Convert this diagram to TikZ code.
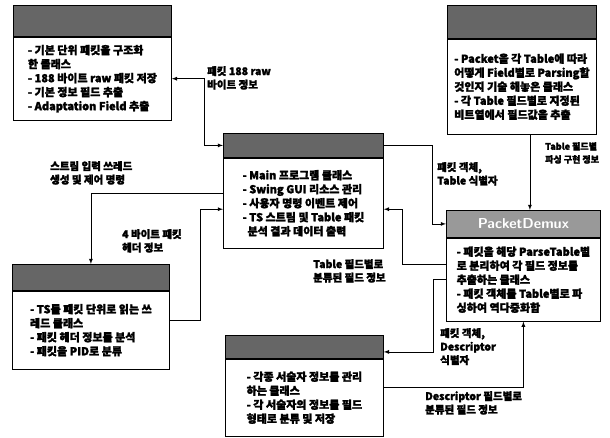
\documentclass[tikz,border=0pt]{standalone}
\usepackage{fontspec}
\setmainfont{Noto Sans CJK KR}[BoldFeatures={FakeBold=2}]
\usepackage{tikz}
\usetikzlibrary{calc}
\usetikzlibrary{positioning}

\newcommand{\bodyfont}{\fontsize{11}{14}\selectfont\bfseries}
\newcommand{\msgfont}{\fontsize{10.5}{13.5}\selectfont\bfseries}

\begin{document}
\begin{tikzpicture}[x=1pt, y=-1pt,
	head/.style={rectangle, draw=black, thick, fill=black!60, inner sep=0pt, anchor=north west},
	body/.style={rectangle, draw=black, thick, fill=white, align=left, inner sep=3pt, font=\bodyfont},
	msg/.style={align=left, inner sep=0pt, anchor=north west, font=\msgfont}]

\useasboundingbox (0,0) rectangle (610,437);

%% classes
\node at (13,5) [head, minimum width=158pt, minimum height=31pt] (packethead) {};
\node [body, below=0pt of packethead, minimum width=158pt, minimum height=83pt] (packetbody) {- 기본 단위 패킷을 구조화\\한 클래스\\- 188 바이트 raw 패킷 저장\\- 기본 정보 필드 추출\\- Adaptation Field 추출};

\node at (447,5) [head, minimum width=149pt, minimum height=33pt] (parsehead) {};
\node [body, below=0pt of parsehead, minimum width=149pt, minimum height=95pt] (parsebody) {- Packet을 각 Table에 따라\\어떻게 Field별로 Parsing할\\것인지 기술 해놓은 클래스\\- 각 Table 필드별로 지정된\\비트열에서 필드값을 추출};

\node at (223,133) [head, minimum width=160pt, minimum height=24pt] (mainhead) {};
\node [body, below=0pt of mainhead, minimum width=160pt, minimum height=90pt] (mainbody) {- Main 프로그램 클래스\\- Swing GUI 리소스 관리\\- 사용자 명령 이벤트 제어\\- TS 스트림 및 Table 패킷\\\ \ 분석 결과 데이터 출력};

\node at (446,210) [head, fill=black!40, minimum width=154pt, minimum height=27pt, font=\sffamily\bfseries\Large, text=white] (demuxhead) {PacketDemux};
\node [body, below=0pt of demuxhead, minimum width=154pt, minimum height=83pt] (demuxbody) {- 패킷을 해당 ParseTable별\\로 분리하여 각 필드 정보를\\추출하는 클래스\\- 패킷 객체를 Table별로 파\\싱하여 역다중화함};

\node at (12,264) [head, minimum width=157pt, minimum height=26pt] (readerhead) {};
\node [body, below=0pt of readerhead, minimum width=157pt, minimum height=78pt] (readerbody) {- TS를 패킷 단위로 읽는 쓰\\레드 클래스\\- 패킷 헤더 정보를 분석\\- 패킷을 PID로 분류};

\node at (225,335) [head, minimum width=158pt, minimum height=23pt] (deschead) {};
\node [body, below=0pt of deschead, minimum width=158pt, minimum height=77pt] (descbody) {- 각종 서술자 정보를 관리\\하는 클래스\\- 각 서술자의 정보를 필드\\형태로 분류 및 저장};

%% messages
\node at (207,66) [msg] (rawinfo) {패킷 188 raw\\바이트 정보};
\node at (50,161) [msg] (threadcmd) {스트림 입력 쓰레드\\생성 및 제어 명령};
\node at (122,229) [msg] (headerinfo) {4 바이트 패킷\\헤더 정보};
\node at (437,162) [msg] (tableid) {패킷 객체,\\Table 식별자};
\node at (545,142) [msg, font=\fontsize{9}{13}\selectfont\bfseries] (parseinfo) {Table 필드별\\파싱 구현 정보};
\node at (313,259) [msg] (tablefield) {Table 필드별로\\분류된 필드 정보};
\node at (440,328) [msg] (descid) {패킷 객체,\\Descriptor\\식별자};
\node at (425,391) [msg] (descfield) {Descriptor 필드별로\\분류된 필드 정보};

\begin{scope}[>=latex]
	\draw [thick, <->] (packetbody.east) -- ++(33,0) |- (mainhead.west);
	\draw [thick, ->] ([yshift=10pt]mainbody.west) -| (readerhead.north);
	\draw [thick, ->] ([yshift=10pt]readerbody.east) -- ++(31,0) |- ([yshift=-6pt]mainbody.west);
	\draw [thick, ->] (mainhead.east) -- ++(49,0) |- (demuxhead.west);
	\draw [thick, ->] ([yshift=15pt]demuxbody.west) -- ++(-44,0) |- ([yshift=-6pt]mainbody.east);
	\draw [thick, ->] ([xshift=8pt]parsebody.south) -- ([xshift=8pt]parsebody.south |- demuxhead.north);
	\draw [thick, ->] (demuxbody.west) -- ++(-13,0) |- ([yshift=-5pt]deschead.east);
	\draw [thick, ->] ([yshift=10pt]descbody.east) -| (demuxbody.south);
\end{scope}

\end{tikzpicture}
\end{document}
